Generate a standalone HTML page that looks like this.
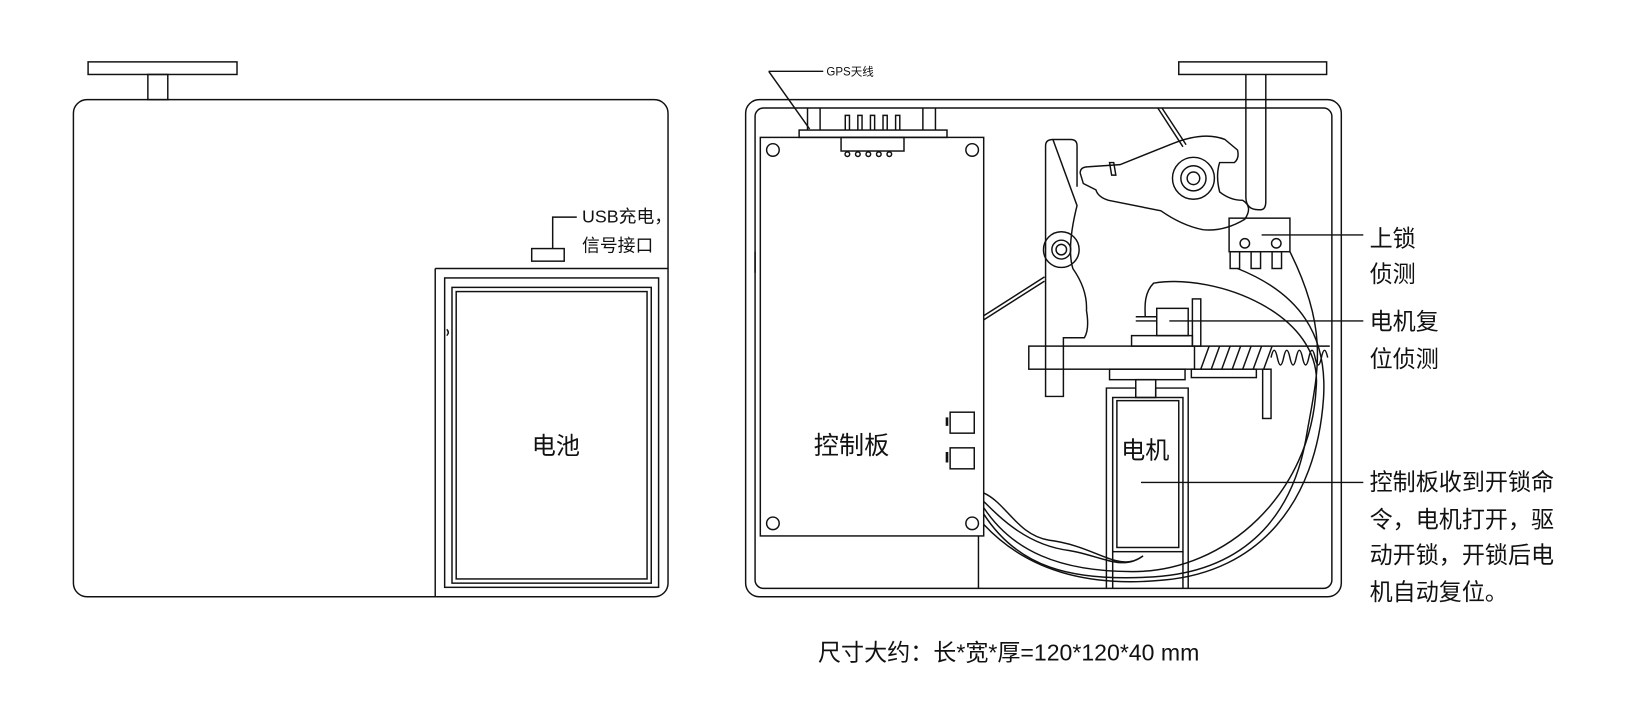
<!DOCTYPE html>
<html><head><meta charset="utf-8"><style>
html,body{margin:0;padding:0;background:#fff;}
svg{display:block}
text{font-family:"Liberation Sans","Noto Sans CJK SC",sans-serif;fill:#111}
</style></head><body>
<svg width="1636" height="709" viewBox="0 0 1560 676" preserveAspectRatio="none" xmlns="http://www.w3.org/2000/svg">
<g fill="none" stroke="#111" stroke-width="1.4">
<!-- LEFT VIEW -->
<rect x="84" y="59" width="142" height="12"/>
<rect x="141" y="71" width="19" height="24"/>
<rect x="70" y="95" width="567" height="474" rx="13"/>
<path d="M415 256 H637 M415 256 V569"/>
<rect x="424" y="265" width="204" height="295"/>
<rect x="431" y="274" width="190" height="282"/>
<rect x="435" y="278" width="182" height="274"/>
<rect x="507" y="237" width="31" height="12"/>
<path d="M527 237 V207 H550"/>
<path d="M426 314 q3 3 0 6"/>

<!-- RIGHT VIEW -->
<rect x="711" y="95" width="568" height="474" rx="13"/>
<rect x="720" y="103" width="550" height="458" rx="8"/>
<rect x="1124" y="59" width="141" height="12"/>
<path d="M1188 71 V188 q0 12 12 12 h2 q5 0 5 -8 V71"/>
<!-- GPS -->
<path d="M733 68 H785 M733 68 L772 123"/>
<rect x="762" y="124" width="141" height="7"/>
<path d="M770 124 V103 M782 124 V103 M880 124 V103 M892 124 V103"/>
<path d="M806 124 V110 h4 V124 M818 124 V110 h4 V124 M830 124 V110 h4 V124 M842 124 V110 h4 V124 M854 124 V110 h4 V124"/>
<rect x="802" y="131" width="60" height="13"/>
<circle cx="808" cy="147" r="2.2"/><circle cx="818" cy="147" r="2.2"/><circle cx="828" cy="147" r="2.2"/><circle cx="838" cy="147" r="2.2"/><circle cx="848" cy="147" r="2.2"/>
<!-- board -->
<rect x="725" y="131" width="213" height="380"/>
<circle cx="737" cy="143" r="6"/><circle cx="927" cy="143" r="6"/><circle cx="737" cy="499" r="6"/><circle cx="927" cy="499" r="6"/>
<rect x="906" y="393" width="23" height="20"/><rect x="906" y="427" width="23" height="20"/>
<path d="M903 398 v8 M903 431 v10" stroke-width="2.5"/>
<path d="M933 511 V561 M720 240 V260"/>
<!-- diagonal links -->
<path d="M938 301 L996 264 M938 305 L996 268"/>
<path d="M1104 103 L1128 140 M1108 103 L1131 138"/>
<!-- lever arm -->
<path d="M1003 133 h18 q6 0 6 6 V178 M1027 196 q-10 40 -4 60 q14 20 13 40 q3 18 -2 26 h-20 V378 h-17 V139 q0 -6 7 -6 z"/>
<circle cx="1012" cy="238" r="17"/><circle cx="1012" cy="238" r="9"/><circle cx="1012" cy="238" r="5"/>
<!-- hook / latch -->
<path d="M1030 165 q0 -6 8 -6 l30 -2 l50 -20 q30 -12 50 -4 l12 10 q2 8 -3 12 h-14 q-4 12 0 28 q10 8 22 8 q10 6 2 18 q-20 12 -40 10 q-20 -4 -40 -18 l-50 -10 q-10 -3 -12 -10 l-12 -6 z"/>
<circle cx="1138" cy="170" r="20"/><circle cx="1138" cy="170" r="12"/><circle cx="1138" cy="170" r="6"/>
<path d="M1058 155 l2 12 h4 l-2 -12 z"/>
<!-- micro switch -->
<rect x="1172" y="208" width="58" height="32"/>
<circle cx="1187" cy="232" r="4.5"/><circle cx="1217" cy="232" r="4.5"/>
<rect x="1173" y="240" width="9" height="16"/><rect x="1193" y="240" width="9" height="16"/><rect x="1213" y="240" width="9" height="16"/>
<!-- reset switch -->
<rect x="1103" y="294" width="30" height="26"/>
<path d="M1083 302 H1103 M1083 306 H1103"/>
<rect x="1137" y="285" width="8" height="45"/>
<rect x="1079" y="320" width="58" height="10"/>
<!-- bar & spring -->
<rect x="981" y="330" width="158" height="22"/>
<path d="M1139 330 H1268 M1139 352 H1210"/>
<path d="M1145 352 l8 -22 M1155 352 l8 -22 M1165 352 l8 -22 M1175 352 l8 -22 M1185 352 l8 -22 M1195 352 l8 -22 M1205 352 l8 -22"/>
<path d="M1212 341 q3 -14 6 0 q3 14 6 0 q3 -14 6 0 q3 14 6 0 q3 -14 6 0 q3 14 6 0 q3 -14 6 0 q3 14 6 0 q3 -14 6 0"/>
<rect x="1136" y="352" width="62" height="8"/>
<rect x="1204" y="352" width="8" height="47"/>
<rect x="1058" y="352" width="72" height="10"/>
<!-- motor -->
<path d="M1055 561 V370 H1083 V379 M1102 379 V370 H1133 V561"/>
<rect x="1083" y="362" width="19" height="17"/>
<rect x="1061" y="379" width="67" height="147"/>
<rect x="1065" y="382" width="59" height="140"/>
<path d="M1061 526 V561 M1128 526 V561"/>
<!-- wires -->
<path d="M938 470 C960 480 970 510 1000 515 C1040 520 1060 540 1080 535"/>
<path d="M938 478 C955 495 980 520 1020 525 C1050 530 1070 545 1090 530"/>
<path d="M938 490 C970 540 1020 555 1100 550 C1180 545 1230 500 1245 420 C1255 360 1270 320 1230 240"/>
<path d="M938 500 C980 545 1040 560 1110 553 C1200 545 1255 480 1262 380 C1266 320 1240 280 1180 256"/>
<path d="M938 484 C965 525 1010 545 1080 545 C1170 545 1250 470 1255 370 C1262 300 1160 260 1100 270 C1090 280 1092 295 1092 302"/>
</g>
<g stroke="#111" stroke-width="1.3">
<line x1="1203" y1="224" x2="1300" y2="224"/>
<line x1="1115" y1="306" x2="1300" y2="306"/>
<line x1="1088" y1="460" x2="1300" y2="460"/>
</g>
<text x="555" y="212" font-size="17">USB充电，</text>
<text x="555" y="240" font-size="17">信号接口</text>
<text x="530" y="433" font-size="23" text-anchor="middle">电池</text>
<text x="788" y="72" font-size="11">GPS天线</text>
<text x="812" y="433" font-size="24" text-anchor="middle">控制板</text>
<text x="1092" y="437" font-size="23" text-anchor="middle">电机</text>
<text x="1306" y="235" font-size="22">上锁</text>
<text x="1306" y="269" font-size="22">侦测</text>
<text x="1306" y="314" font-size="22">电机复</text>
<text x="1306" y="350" font-size="22">位侦测</text>
<text x="1306" y="467" font-size="22">控制板收到开锁命</text>
<text x="1306" y="503" font-size="22">令，电机打开，驱</text>
<text x="1306" y="537" font-size="22">动开锁，开锁后电</text>
<text x="1306" y="572" font-size="22">机自动复位。</text>
<text x="780" y="630" font-size="22">尺寸大约：长*宽*厚=120*120*40 mm</text>
</svg>
</body></html>
